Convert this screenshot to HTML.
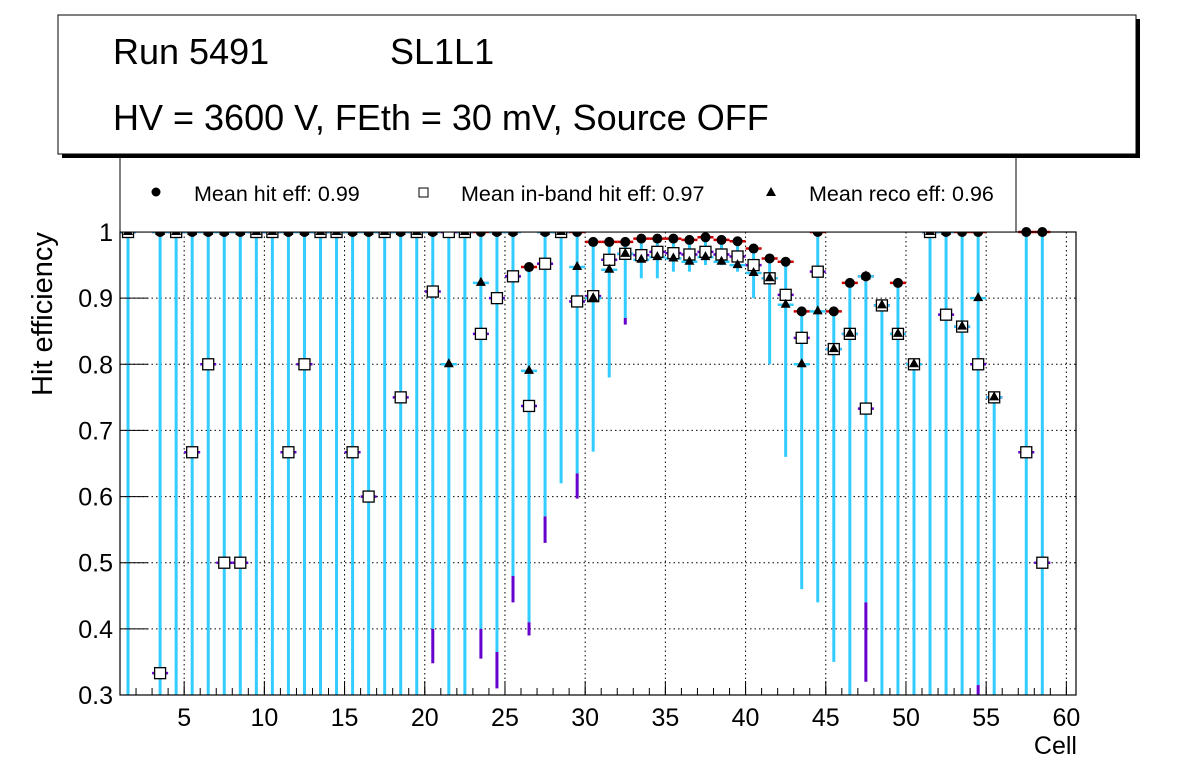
<!DOCTYPE html>
<html><head><meta charset="utf-8"><style>
body{margin:0;background:#fff;}
svg{display:block;font-family:"Liberation Sans",sans-serif;}
</style></head><body>
<svg id="c" width="1196" height="772" xmlns="http://www.w3.org/2000/svg">
<rect x="0" y="0" width="1196" height="772" fill="#fff"/>
<g id="grid"></g>
<g id="marks"></g>
<rect x="120" y="232" width="956" height="463" fill="none" stroke="#000" stroke-width="1.2"/>
<g id="axes"></g>
<text x="52" y="314" font-size="29" text-anchor="middle" transform="rotate(-90 52 314)">Hit efficiency</text>
<text x="1077" y="754" font-size="25" text-anchor="end">Cell</text>
<rect x="120" y="154" width="896" height="78" fill="#fff" stroke="#000" stroke-width="1"/>
<g><circle cx="156" cy="192" r="4.5" fill="#000"/><text x="194" y="201" font-size="21.5">Mean hit  eff: 0.99</text></g>
<g><rect x="419" y="188" width="9" height="9" fill="#fff" stroke="#000"/><text x="461" y="201" font-size="21.5">Mean in-band hit eff: 0.97</text></g>
<g><polygon points="771,187 776,196 766,196" fill="#000"/><text x="809" y="201" font-size="21.5">Mean reco eff: 0.96</text></g>
<rect x="62" y="19" width="1078" height="139" fill="#000"/>
<rect x="58" y="15" width="1078" height="139" fill="#fff" stroke="#000" stroke-width="1"/>
<text x="113" y="64" font-size="36">Run 5491</text>
<text x="390" y="64" font-size="36">SL1L1</text>
<text x="113" y="130" font-size="36">HV = 3600 V, FEth = 30 mV, Source OFF</text>
</svg>
<script>
const cells = [1,3,4,5,6,7,8,9,10,11,12,13,14,15,16,17,18,19,20,21,22,23,24,25,26,27,28,29,30,31,32,33,34,35,36,37,38,39,40,41,42,43,44,45,46,47,48,49,50,51,52,53,54,55,57,58];
const hitEff = [1,1,1,1,1,1,1,1,1,1,1,1,1,1,1,1,1,1,1,1,1,1,1,1,0.947,1,1,1,0.985,0.985,0.985,0.99,0.99,0.99,0.988,0.992,0.988,0.986,0.975,0.96,0.955,0.88,1,0.88,0.923,0.933,0.889,0.923,0.8,1,1,1,1,0.75,1,1];
const inbandEff = [1,0.333,1,0.667,0.8,0.5,0.5,1,1,0.667,0.8,1,1,0.667,0.6,1,0.75,1,0.91,1,1,0.846,0.9,0.933,0.737,0.952,1,0.895,0.903,0.958,0.967,0.965,0.97,0.968,0.966,0.97,0.966,0.963,0.95,0.93,0.905,0.84,0.94,0.823,0.846,0.733,0.889,0.846,0.8,1,0.875,0.857,0.8,0.75,0.667,0.5];
const recoEff = [1,1,1,1,1,1,1,1,1,1,1,1,1,1,1,1,1,1,1,0.8,1,0.923,1,1,0.79,1,1,0.947,0.9,0.943,0.967,0.958,0.962,0.96,0.955,0.962,0.955,0.95,0.938,0.93,0.89,0.8,0.88,0.823,0.846,0.933,0.889,0.846,0.8,1,1,0.857,0.9,0.75,null,null];
const cyanLow = [0.3,0.3,0.3,0.3,0.3,0.3,0.3,0.3,0.3,0.3,0.3,0.3,0.3,0.3,0.3,0.3,0.3,0.3,0.4,0.3,0.3,0.4,0.365,0.48,0.41,0.57,0.62,0.635,0.668,0.78,0.87,0.93,0.93,0.94,0.94,0.95,0.95,0.94,0.9,0.8,0.66,0.46,0.44,0.35,0.3,0.44,0.3,0.3,0.3,0.3,0.3,0.3,0.315,0.3,0.3,0.3];
const purpleLow = [null,null,null,null,null,null,null,null,null,null,null,null,null,null,null,null,null,null,0.348,null,null,0.355,0.31,0.44,0.39,0.53,null,0.597,null,null,0.86,null,null,null,null,null,null,null,null,null,null,null,null,null,null,0.32,null,null,null,null,null,null,0.3,null,null,null];
const xTicks = [5,10,15,20,25,30,35,40,45,50,55,60];
const yTicks = [0.3,0.4,0.5,0.6,0.7,0.8,0.9,1];
const yTickLabels = ["0.3","0.4","0.5","0.6","0.7","0.8","0.9","1"];

const X0=120,X1=1076,Y0=695,Y1=232,XMIN=1,XMAX=60.6,YMIN=0.3,YMAX=1.0;
const sx=v=>X0+(v-XMIN)/(XMAX-XMIN)*(X1-X0);
const sy=v=>Y0-(v-YMIN)/(YMAX-YMIN)*(Y0-Y1);
const clampY=v=>Math.max(Y1,Math.min(Y0,sy(v)));
const NS="http://www.w3.org/2000/svg";
function mk(parent,tag,attrs){const e=document.createElementNS(NS,tag);for(const k in attrs)e.setAttribute(k,attrs[k]);parent.appendChild(e);return e;}
const grid=document.getElementById('grid'),marks=document.getElementById('marks'),axes=document.getElementById('axes');
xTicks.forEach(t=>{const x=sx(t);
 const g=mk(grid,'line',{x1:x,x2:x,y1:Y1,y2:Y0,stroke:'#000','stroke-dasharray':'1.5,3','stroke-width':1});
 
 const tk=mk(axes,'line',{x1:x,x2:x,y1:Y0,y2:Y0-14,stroke:'#000'});
 
 const tl=mk(axes,'text',{x:x,y:Y0+31,'font-size':25,'text-anchor':'middle'});tl.textContent=t;
 
});
for(let t=1;t<=60;t++){const x=sx(t);const m=mk(axes,'line',{x1:x,x2:x,y1:Y0,y2:Y0-7,stroke:'#000'});
 }
yTicks.forEach((t,i)=>{const y=sy(t);
 if(t<1){const g=mk(grid,'line',{x1:X0,x2:X1,y1:y,y2:y,stroke:'#000','stroke-dasharray':'1.5,3','stroke-width':1});
 }
 const tk=mk(axes,'line',{x1:X0,x2:X0+28,y1:y,y2:y,stroke:'#000'});
 
 const tl=mk(axes,'text',{x:X0-7,y:y+9,'font-size':25,'text-anchor':'end'});tl.textContent=yTickLabels[i];
 
});
const hw=(sx(2)-sx(1))/2;
cells.forEach((c,i)=>{const x=sx(c+0.5);
 const top=Math.max(hitEff[i]||0,inbandEff[i]||0,recoEff[i]||0);
 const b=mk(marks,'line',{x1:x,x2:x,y1:clampY(top),y2:clampY(cyanLow[i]),stroke:'#33ccff','stroke-width':3});
 
 if(purpleLow[i]!=null){const p=mk(marks,'line',{x1:x,x2:x,y1:clampY(cyanLow[i]),y2:clampY(purpleLow[i]),stroke:'#6600cc','stroke-width':3});
  }
});
cells.forEach((c,i)=>{const x=sx(c+0.5);
 if(hitEff[i]!=null){const y=clampY(hitEff[i]);
  const h=mk(marks,'line',{x1:x-hw,x2:x+hw,y1:y,y2:y,stroke:'#cc0000','stroke-width':2.5});
  }
 if(inbandEff[i]!=null){const y=clampY(inbandEff[i]);
  const h=mk(marks,'line',{x1:x-hw,x2:x+hw,y1:y,y2:y,stroke:'#6600cc','stroke-width':2.5});
  }
 if(recoEff[i]!=null){const y=clampY(recoEff[i]);
  const h=mk(marks,'line',{x1:x-hw,x2:x+hw,y1:y,y2:y,stroke:'#33ccff','stroke-width':2.5});
  }
});
cells.forEach((c,i)=>{const x=sx(c+0.5);
 if(hitEff[i]!=null){const m=mk(marks,'circle',{cx:x,cy:clampY(hitEff[i]),r:5,fill:'#000'});
  }
 if(inbandEff[i]!=null){const y=clampY(inbandEff[i]);const m=mk(marks,'rect',{x:x-5.5,y:y-5.5,width:11,height:11,fill:'#fff',stroke:'#000','stroke-width':1.3});
  }
 if(recoEff[i]!=null){const y=clampY(recoEff[i]);const m=mk(marks,'polygon',{points:`${x},${y-6} ${x+5},${y+3} ${x-5},${y+3}`,fill:'#000'});
  }
});
</script>
</body></html>
